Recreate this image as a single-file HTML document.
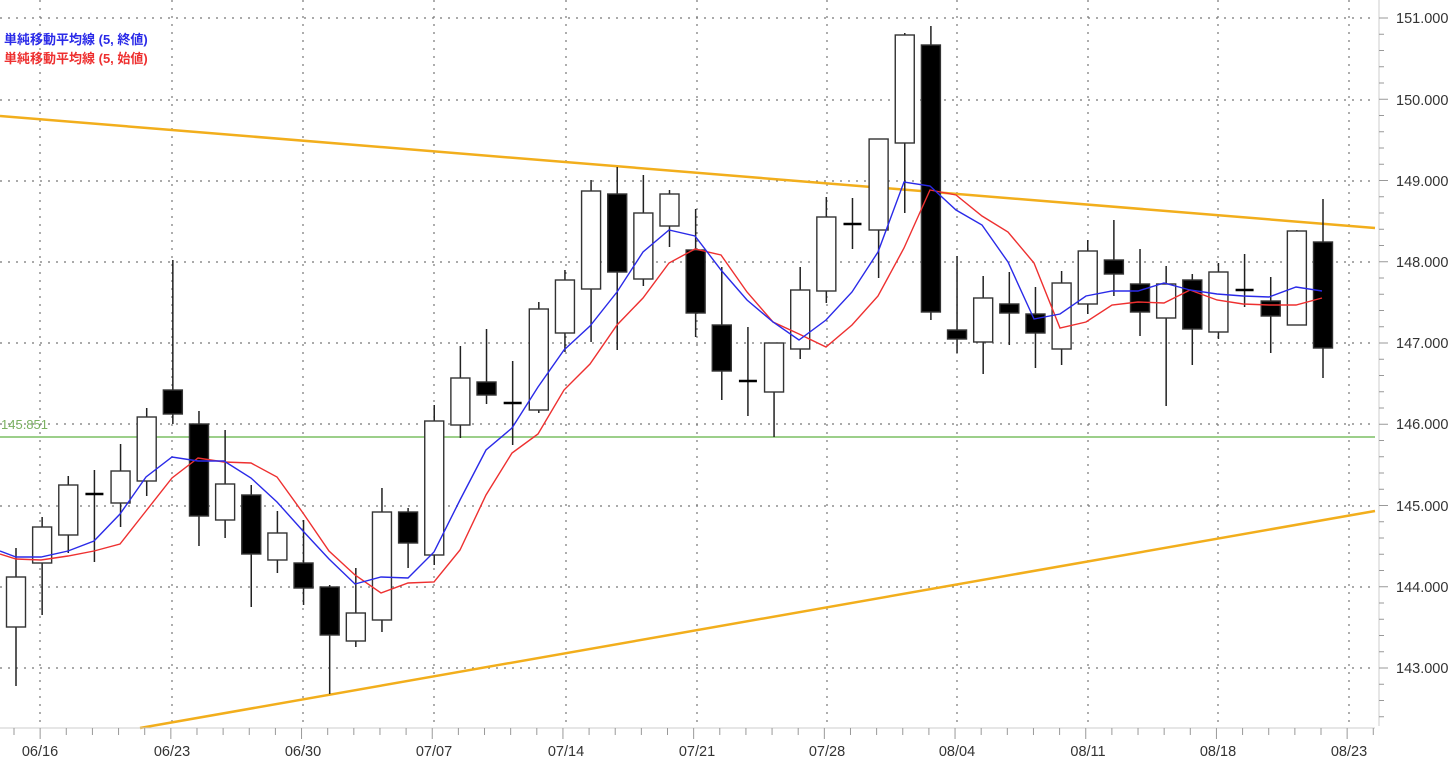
<!DOCTYPE html>
<html><head><meta charset="utf-8"><style>
html,body{margin:0;padding:0;background:#fff;}
svg{display:block;font-family:"Liberation Sans","Noto Sans CJK JP",sans-serif;}
</style></head><body>
<svg id="c" width="1456" height="763" viewBox="0 0 1456 763" xmlns="http://www.w3.org/2000/svg">
<rect width="1456" height="763" fill="#fff"/>
<g id="grid" stroke="#777" stroke-width="1.2" stroke-dasharray="2,6"></g>
<line x1="0" y1="437" x2="1375" y2="437" stroke="#9ccf8a" stroke-width="2"/>
<text x="1" y="429" font-size="13" fill="#7ab060">145.851</text>
<line x1="0" y1="116" x2="1375" y2="228" stroke="#f2ae1c" stroke-width="2.5"/>
<line x1="140" y1="728" x2="1375" y2="511" stroke="#f2ae1c" stroke-width="2.5"/>
<g id="candles"></g>
<polyline id="red" fill="none" stroke="#ee3030" stroke-width="1.4"/>
<polyline id="blue" fill="none" stroke="#2a2ae8" stroke-width="1.4"/>
<text x="4" y="44" font-size="13" fill="#2a2ae8" font-weight="bold">単純移動平均線 (5, 終値)</text>
<text x="4" y="63" font-size="13" fill="#ee3030" font-weight="bold">単純移動平均線 (5, 始値)</text>
<line x1="1379" y1="0" x2="1379" y2="726" stroke="#ccc"/>
<line x1="0" y1="728" x2="1375" y2="728" stroke="#ccc"/>
<g id="axis" stroke="#999"></g>
<g font-size="14.5" fill="#333">
<text x="1396" y="23">151.000</text><text x="1396" y="105">150.000</text><text x="1396" y="186">149.000</text><text x="1396" y="267">148.000</text><text x="1396" y="348">147.000</text><text x="1396" y="429">146.000</text><text x="1396" y="511">145.000</text><text x="1396" y="592">144.000</text><text x="1396" y="673">143.000</text>
</g>
<g font-size="14.5" fill="#333" text-anchor="middle">
<text x="40" y="756">06/16</text><text x="172" y="756">06/23</text><text x="303" y="756">06/30</text><text x="434" y="756">07/07</text><text x="566" y="756">07/14</text><text x="697" y="756">07/21</text><text x="827" y="756">07/28</text><text x="957" y="756">08/04</text><text x="1088" y="756">08/11</text><text x="1218" y="756">08/18</text><text x="1349" y="756">08/23</text>
</g>
</svg>
<script>
var NS="http://www.w3.org/2000/svg";
function el(p,t,a){var e=document.createElementNS(NS,t);for(var k in a)e.setAttribute(k,a[k]);p.appendChild(e);return e;}
var g=document.getElementById('grid');
[18,100,181,262,343,424,506,587,668].forEach(function(y){el(g,'line',{x1:0,y1:y,x2:1375,y2:y});});
[40,172,303,434,566,697,827,957,1088,1218,1349].forEach(function(x){el(g,'line',{x1:x,y1:0,x2:x,y2:726});});
var ax=document.getElementById('axis');
for(var i=0;i<45;i++){var y=18+i*16.25;if(y>726)break;el(ax,'line',{x1:1379,y1:y,x2:(i%5==0?1388:1384),y2:y});}
for(var i=0;i<53;i++){var x=14+i*26.14;if(x>1375)break;el(ax,'line',{x1:x,y1:728,x2:x,y2:(i%5==1?739:735)});}
var C=[[548,577,627,686,0],[517,527,563,615,0],[476,485,535,553,0],[470,494,494,562,2],[444,471,503,527,0],[408,417,481,496,0],[260,390,414,424,1],[411,424,516,546,1],[430,484,520,538,0],[485,495,554,607,1],[511,533,560,573,0],[520,563,588,605,1],[585,587,635,694,1],[568,613,641,647,0],[488,512,620,632,0],[508,512,543,568,1],[405,421,555,565,0],[346,378,425,438,0],[329,382,395,404,1],[361,403,403,445,2],[302,309,410,413,0],[270,280,333,352,0],[180,191,289,342,0],[167,194,272,350,1],[175,213,279,286,0],[190,194,226,247,0],[209,250,313,337,1],[267,325,371,400,1],[327,381,381,416,2],[343,343,392,437,0],[267,290,349,359,0],[197,217,291,303,0],[198,224,224,249,2],[139,139,230,278,0],[33,35,143,213,0],[26,45,312,320,1],[256,330,339,353,1],[276,298,342,374,0],[272,304,313,345,1],[287,314,333,368,1],[271,283,349,365,0],[240,251,304,314,0],[220,260,274,296,1],[249,284,312,336,1],[266,284,318,406,0],[274,280,329,365,1],[263,272,332,339,0],[254,290,290,307,2],[277,301,316,353,1],[230,231,325,325,0],[199,242,348,378,1]];
var cg=document.getElementById('candles');
C.forEach(function(c,i){var x=16+i*26.14;
el(cg,'line',{x1:x,y1:c[0],x2:x,y2:c[3],stroke:'#222','stroke-width':1.5});
if(c[4]==2){el(cg,'line',{x1:x-9,y1:c[1],x2:x+9,y2:c[1],stroke:'#000','stroke-width':2.5});}
else el(cg,'rect',{x:x-9.5,y:c[1],width:19,height:Math.max(c[2]-c[1],2),fill:c[4]?'#000':'#fff',stroke:'#333','stroke-width':1.4});
});
var xs=[0,16,41,68,94,120,146,172,198,224,251,277,303,329,355,381,408,434,460,486,512,538,564,590,617,643,669,695,721,747,773,799,826,852,878,904,930,956,982,1008,1034,1060,1086,1112,1138,1164,1190,1217,1243,1269,1296,1322];
var B=[551,557,557,551,541,514,477,457,461,461,478,502,531,559,584,577,578,552,500,450,428,387,350,326,292,252,230,236,270,300,322,340,320,292,252,182,186,210,225,262,319,314,296,291,291,283,290,294,296,297,287,291];
var R=[554,559,560,556,551,544,511,478,458,462,463,477,513,551,575,593,583,582,550,495,453,434,390,364,325,298,263,249,255,292,322,334,347,325,296,248,190,195,216,232,263,328,322,305,302,303,290,300,304,305,305,298];
document.getElementById('blue').setAttribute('points',xs.map(function(x,i){return x+','+B[i];}).join(' '));
document.getElementById('red').setAttribute('points',xs.map(function(x,i){return x+','+R[i];}).join(' '));
</script>
</body></html>
